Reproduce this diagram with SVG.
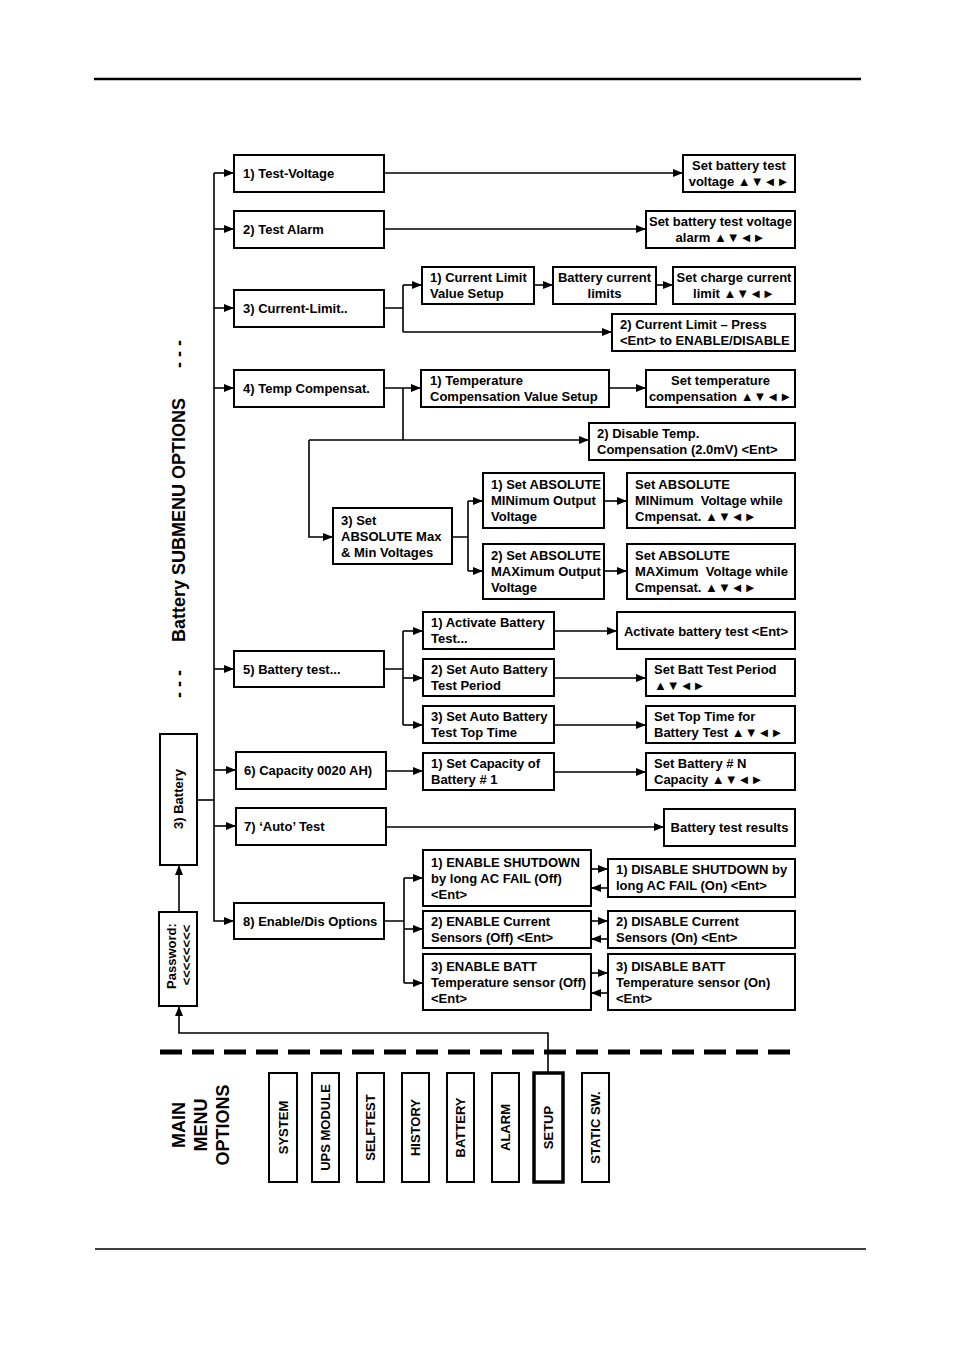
<svg xmlns="http://www.w3.org/2000/svg" width="954" height="1350" viewBox="0 0 954 1350">
<style>
.bg{fill:#fff}
.box{fill:#fff;stroke:#000;stroke-width:2}
.thick{fill:#fff;stroke:#000;stroke-width:3.5}
.t{font-family:"Liberation Sans",Arial,sans-serif;font-weight:bold;font-size:13px;fill:#000}
.big{font-family:"Liberation Sans",Arial,sans-serif;font-weight:bold;font-size:18px;fill:#000}
.c{text-anchor:middle}
.ln{fill:none;stroke:#000;stroke-width:1.6}
.a{marker-end:url(#ah)}
.rule{fill:none;stroke:#000}
</style>
<defs>
<marker id="ah" viewBox="0 0 10 8" refX="10" refY="4" markerWidth="10" markerHeight="8" markerUnits="userSpaceOnUse" orient="auto">
<path d="M0,0 L10,4 L0,8 z" fill="#000"/>
</marker>
</defs>
<rect class="bg" x="0" y="0" width="954" height="1350"/>
<path class="rule" d="M94,79 H861" stroke-width="2.5"/>
<path class="rule" d="M95,1249 H866" stroke-width="1.5"/>

<g id="connectors">
<path class="ln a" d="M214,173 H234"/>
<path class="ln a" d="M214,229 H234"/>
<path class="ln a" d="M214,308 H234"/>
<path class="ln a" d="M214,388 H234"/>
<path class="ln a" d="M214,669 H234"/>
<path class="ln a" d="M214,770 H236"/>
<path class="ln a" d="M214,826 H236"/>
<path class="ln a" d="M214,173 V921 H234"/>
<path class="ln" d="M197,800 H214"/>
<path class="ln a" d="M384,173 H683"/>
<path class="ln a" d="M384,229 H646"/>
<path class="ln" d="M384,308 H403 M403,285 V332"/>
<path class="ln a" d="M403,285 H422"/>
<path class="ln a" d="M403,332 H612"/>
<path class="ln a" d="M534,285 H553"/>
<path class="ln a" d="M656,285 H673"/>
<path class="ln a" d="M384,388 H421"/>
<path class="ln" d="M403,388 V440"/>
<path class="ln a" d="M309,440 H589"/>
<path class="ln a" d="M309,440 V537 H333"/>
<path class="ln a" d="M609,388 H646"/>
<path class="ln" d="M452,537 H468 M468,501 V571"/>
<path class="ln a" d="M468,501 H483"/>
<path class="ln a" d="M468,571 H483"/>
<path class="ln a" d="M604,501 H627"/>
<path class="ln a" d="M604,571 H627"/>
<path class="ln" d="M384,669 H403 M403,631 V725"/>
<path class="ln a" d="M403,631 H423"/>
<path class="ln a" d="M403,678 H423"/>
<path class="ln a" d="M403,725 H423"/>
<path class="ln a" d="M554,631 H617"/>
<path class="ln a" d="M554,678 H646"/>
<path class="ln a" d="M554,725 H646"/>
<path class="ln a" d="M386,771 H423"/>
<path class="ln a" d="M554,772 H646"/>
<path class="ln a" d="M386,827 H664"/>
<path class="ln" d="M384,921 H404 M404,878 V983"/>
<path class="ln a" d="M404,878 H423"/>
<path class="ln a" d="M404,929 H423"/>
<path class="ln a" d="M404,983 H423"/>
<path class="ln a" d="M591,869 H608"/>
<path class="ln a" d="M608,888 H591"/>
<path class="ln a" d="M591,921 H608"/>
<path class="ln a" d="M608,939 H591"/>
<path class="ln a" d="M591,973 H608"/>
<path class="ln a" d="M608,993 H591"/>
<path class="ln a" d="M179,912 V865"/>
<path class="ln a" d="M548,1073 V1033 H179 V1006"/>
</g>

<path id="separator" d="M160,1052 H795" fill="none" stroke="#000" stroke-width="5" stroke-dasharray="22 10"/>

<g id="submenu-title">
<text class="big c" transform="translate(178,354) rotate(-90)" y="6.5">- - -</text>
<text class="big c" transform="translate(178,520) rotate(-90)" y="6.5">Battery SUBMENU OPTIONS</text>
<text class="big c" transform="translate(178,684) rotate(-90)" y="6.5">- - -</text>
</g>

<g id="n-battery"><rect class="box" x="160" y="734" width="37" height="131"/><text class="t c" transform="translate(178.5,799) rotate(-90)" y="4.7">3) Battery</text></g>
<g id="n-password"><rect class="box" x="159" y="912" width="38" height="94"/><text class="t c" transform="translate(171,956) rotate(-90)" y="4.7">Password:</text><text class="t c" transform="translate(186,955) rotate(-90)" y="4.7">&lt;&lt;&lt;&lt;&lt;&lt;&lt;&lt;</text></g>

<g id="n-test-voltage"><rect class="box" x="234" y="155" width="150" height="37"/><text class="t" x="243" y="178">1) Test-Voltage</text></g>
<g id="n-test-alarm"><rect class="box" x="234" y="211" width="150" height="37"/><text class="t" x="243" y="234">2) Test Alarm</text></g>
<g id="n-current-limit"><rect class="box" x="234" y="290" width="150" height="37"/><text class="t" x="243" y="313">3) Current-Limit..</text></g>
<g id="n-temp-comp"><rect class="box" x="234" y="370" width="150" height="37"/><text class="t" x="243" y="393">4) Temp Compensat.</text></g>
<g id="n-battery-test"><rect class="box" x="234" y="651" width="150" height="36"/><text class="t" x="243" y="674">5) Battery test...</text></g>
<g id="n-capacity"><rect class="box" x="236" y="752" width="150" height="37"/><text class="t" x="244" y="775">6) Capacity 0020 AH)</text></g>
<g id="n-auto-test"><rect class="box" x="236" y="808" width="150" height="37"/><text class="t" x="244" y="831">7) ‘Auto’ Test</text></g>
<g id="n-enable-dis"><rect class="box" x="234" y="903" width="150" height="36"/><text class="t" x="243" y="926">8) Enable/Dis Options</text></g>

<g id="r-set-test-voltage"><rect class="box" x="683" y="155" width="112" height="37"/><text class="t c" x="739" y="169.5">Set battery test<tspan x="739" dy="16">voltage ▲▼◄►</tspan></text></g>
<g id="r-set-test-alarm"><rect class="box" x="646" y="211" width="149" height="37"/><text class="t c" x="720.5" y="225.5">Set battery test voltage<tspan x="720.5" dy="16">alarm ▲▼◄►</tspan></text></g>
<g id="n-cl-value"><rect class="box" x="422" y="267" width="112" height="37"/><text class="t" x="430" y="281.5">1) Current Limit<tspan x="430" dy="16">Value Setup</tspan></text></g>
<g id="r-batt-current"><rect class="box" x="553" y="267" width="103" height="37"/><text class="t c" x="604.5" y="281.5">Battery current<tspan x="604.5" dy="16">limits</tspan></text></g>
<g id="r-charge-current"><rect class="box" x="673" y="267" width="122" height="37"/><text class="t c" x="734" y="281.5">Set charge current<tspan x="734" dy="16">limit ▲▼◄►</tspan></text></g>
<g id="n-cl-press"><rect class="box" x="612" y="314" width="183" height="37"/><text class="t" x="620" y="328.5">2) Current Limit – Press<tspan x="620" dy="16">&lt;Ent&gt; to ENABLE/DISABLE</tspan></text></g>
<g id="n-tc-value"><rect class="box" x="421" y="370" width="188" height="37"/><text class="t" x="430" y="384.5">1) Temperature<tspan x="430" dy="16">Compensation Value Setup</tspan></text></g>
<g id="r-set-temp"><rect class="box" x="646" y="370" width="149" height="37"/><text class="t c" x="720.5" y="384.5">Set temperature<tspan x="720.5" dy="16">compensation ▲▼◄►</tspan></text></g>
<g id="n-disable-temp"><rect class="box" x="589" y="423" width="206" height="37"/><text class="t" x="597" y="437.5">2) Disable Temp.<tspan x="597" dy="16">Compensation (2.0mV) &lt;Ent&gt;</tspan></text></g>
<g id="n-abs"><rect class="box" x="333" y="508" width="119" height="56"/><text class="t" x="341" y="524.5">3) Set<tspan x="341" dy="16">ABSOLUTE Max</tspan><tspan x="341" dy="16">&amp; Min Voltages</tspan></text></g>
<g id="n-abs-min"><rect class="box" x="483" y="473" width="121" height="55"/><text class="t" x="491" y="488.5">1) Set ABSOLUTE<tspan x="491" dy="16">MINimum Output</tspan><tspan x="491" dy="16">Voltage</tspan></text></g>
<g id="r-abs-min"><rect class="box" x="627" y="473" width="168" height="55"/><text class="t" x="635" y="488.5" xml:space="preserve">Set ABSOLUTE<tspan x="635" dy="16">MINimum  Voltage while</tspan><tspan x="635" dy="16">Cmpensat. ▲▼◄►</tspan></text></g>
<g id="n-abs-max"><rect class="box" x="483" y="544" width="121" height="55"/><text class="t" x="491" y="559.5">2) Set ABSOLUTE<tspan x="491" dy="16">MAXimum Output</tspan><tspan x="491" dy="16">Voltage</tspan></text></g>
<g id="r-abs-max"><rect class="box" x="627" y="544" width="168" height="55"/><text class="t" x="635" y="559.5" xml:space="preserve">Set ABSOLUTE<tspan x="635" dy="16">MAXimum  Voltage while</tspan><tspan x="635" dy="16">Cmpensat. ▲▼◄►</tspan></text></g>
<g id="n-activate"><rect class="box" x="423" y="612" width="131" height="37"/><text class="t" x="431" y="626.5">1) Activate Battery<tspan x="431" dy="16">Test...</tspan></text></g>
<g id="r-activate"><rect class="box" x="617" y="612" width="178" height="37"/><text class="t c" x="706" y="635.5">Activate battery test &lt;Ent&gt;</text></g>
<g id="n-auto-period"><rect class="box" x="423" y="659" width="131" height="37"/><text class="t" x="431" y="673.5">2) Set Auto Battery<tspan x="431" dy="16">Test Period</tspan></text></g>
<g id="r-period"><rect class="box" x="646" y="659" width="149" height="37"/><text class="t" x="654" y="673.5">Set Batt Test Period<tspan x="654" dy="16">▲▼◄►</tspan></text></g>
<g id="n-auto-top"><rect class="box" x="423" y="706" width="131" height="37"/><text class="t" x="431" y="720.5">3) Set Auto Battery<tspan x="431" dy="16">Test Top Time</tspan></text></g>
<g id="r-top"><rect class="box" x="646" y="706" width="149" height="37"/><text class="t" x="654" y="720.5">Set Top Time for<tspan x="654" dy="16">Battery Test ▲▼◄►</tspan></text></g>
<g id="n-set-cap"><rect class="box" x="423" y="753" width="131" height="37"/><text class="t" x="431" y="767.5">1) Set Capacity of<tspan x="431" dy="16">Battery # 1</tspan></text></g>
<g id="r-cap"><rect class="box" x="646" y="753" width="149" height="37"/><text class="t" x="654" y="767.5">Set Battery # N<tspan x="654" dy="16">Capacity ▲▼◄►</tspan></text></g>
<g id="r-results"><rect class="box" x="664" y="809" width="131" height="37"/><text class="t c" x="729.5" y="832">Battery test results</text></g>
<g id="n-en-shutdown"><rect class="box" x="423" y="850" width="168" height="56"/><text class="t" x="431" y="866.5">1) ENABLE SHUTDOWN<tspan x="431" dy="16">by long AC FAIL (Off)</tspan><tspan x="431" dy="16">&lt;Ent&gt;</tspan></text></g>
<g id="r-dis-shutdown"><rect class="box" x="608" y="859" width="187" height="38"/><text class="t" x="616" y="873.5">1) DISABLE SHUTDOWN by<tspan x="616" dy="16">long AC FAIL (On) &lt;Ent&gt;</tspan></text></g>
<g id="n-en-current"><rect class="box" x="423" y="911" width="168" height="37"/><text class="t" x="431" y="925.5">2) ENABLE Current<tspan x="431" dy="16">Sensors (Off) &lt;Ent&gt;</tspan></text></g>
<g id="r-dis-current"><rect class="box" x="608" y="911" width="187" height="37"/><text class="t" x="616" y="925.5">2) DISABLE Current<tspan x="616" dy="16">Sensors (On) &lt;Ent&gt;</tspan></text></g>
<g id="n-en-batt"><rect class="box" x="423" y="954" width="168" height="56"/><text class="t" x="431" y="970.5">3) ENABLE BATT<tspan x="431" dy="16">Temperature sensor (Off)</tspan><tspan x="431" dy="16">&lt;Ent&gt;</tspan></text></g>
<g id="r-dis-batt"><rect class="box" x="608" y="954" width="187" height="56"/><text class="t" x="616" y="970.5">3) DISABLE BATT<tspan x="616" dy="16">Temperature sensor (On)</tspan><tspan x="616" dy="16">&lt;Ent&gt;</tspan></text></g>

<g id="main-menu-title">
<text class="big c" transform="translate(178,1125) rotate(-90)" y="6.5">MAIN</text>
<text class="big c" transform="translate(200,1125) rotate(-90)" y="6.5">MENU</text>
<text class="big c" transform="translate(222,1125) rotate(-90)" y="6.5">OPTIONS</text>
</g>
<g id="m-system"><rect class="box" x="269" y="1073" width="28" height="109"/><text class="t c" transform="translate(283,1127.5) rotate(-90)" y="4.7">SYSTEM</text></g>
<g id="m-ups"><rect class="box" x="312" y="1073" width="27" height="109"/><text class="t c" transform="translate(325.5,1127.5) rotate(-90)" y="4.7">UPS MODULE</text></g>
<g id="m-selftest"><rect class="box" x="357" y="1073" width="27" height="109"/><text class="t c" transform="translate(370.5,1127.5) rotate(-90)" y="4.7">SELFTEST</text></g>
<g id="m-history"><rect class="box" x="402" y="1073" width="27" height="109"/><text class="t c" transform="translate(415.5,1127.5) rotate(-90)" y="4.7">HISTORY</text></g>
<g id="m-battery"><rect class="box" x="447" y="1073" width="27" height="109"/><text class="t c" transform="translate(460.5,1127.5) rotate(-90)" y="4.7">BATTERY</text></g>
<g id="m-alarm"><rect class="box" x="492" y="1073" width="27" height="109"/><text class="t c" transform="translate(505.5,1127.5) rotate(-90)" y="4.7">ALARM</text></g>
<g id="m-setup"><rect class="thick" x="534" y="1073" width="29" height="109"/><text class="t c" transform="translate(548.5,1127.5) rotate(-90)" y="4.7">SETUP</text></g>
<g id="m-static"><rect class="box" x="582" y="1073" width="27" height="109"/><text class="t c" transform="translate(595.5,1127.5) rotate(-90)" y="4.7">STATIC SW.</text></g>
</svg>
